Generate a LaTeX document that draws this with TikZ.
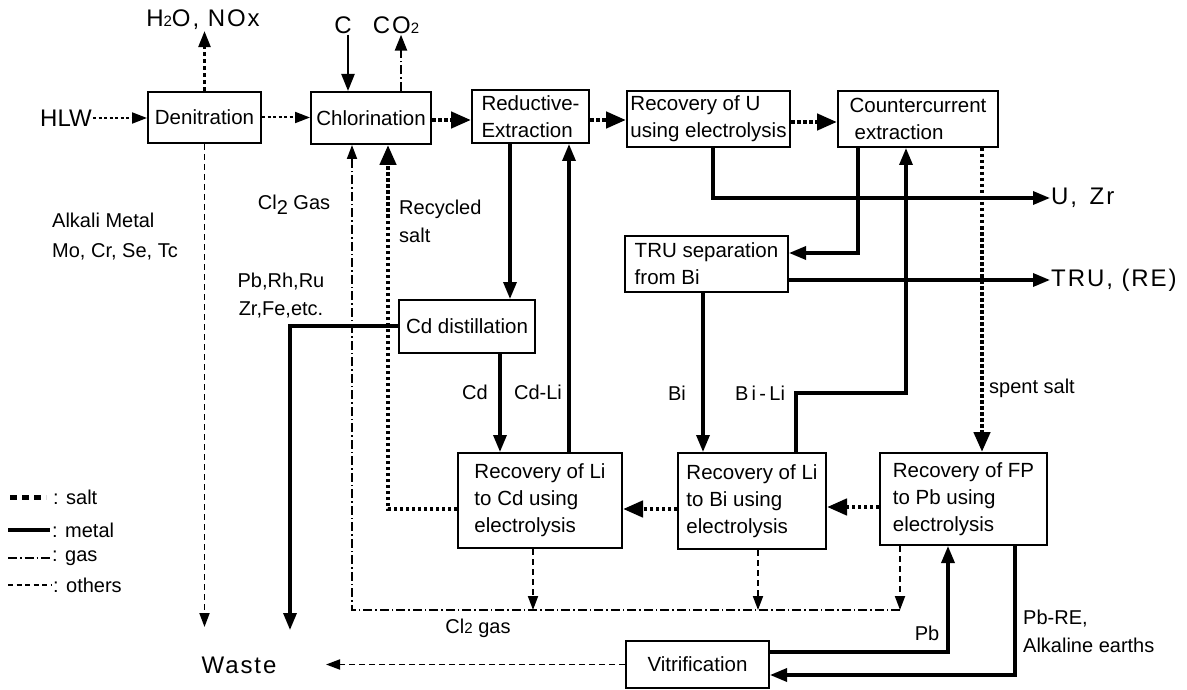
\documentclass[tikz,border=0pt]{standalone}
\usepackage{fontspec}
\setmainfont{Liberation Sans}
\usetikzlibrary{arrows.meta}
\newcommand\smalldigit[1]{{\fontsize{15}{15}\selectfont #1}}
\tikzset{
  box/.style={draw, line width=2pt, inner sep=0pt, align=left, font=\fontsize{20.5}{27}\selectfont},
  metalline/.style={line width=3.3pt},
  metal/.style={line width=3.3pt, -{Triangle[length=17pt,width=13pt]}},
  salt/.style={line width=4.5pt, dash pattern=on 3.5pt off 2.5pt, -{Triangle[length=20pt,width=16pt]}},
  gas/.style={line width=1.9pt, dash pattern=on 9pt off 3pt on 1.5pt off 3pt},
  gasarrow/.style={gas, -{Triangle[length=14pt,width=10pt]}},
  other/.style={line width=1.9pt, dash pattern=on 6pt off 4pt, -{Triangle[length=14pt,width=10pt]}},
  feed/.style={line width=2pt, dash pattern=on 3pt off 2.5pt, -{Triangle[length=15pt,width=11pt]}},
  lbl/.style={inner sep=1pt, font=\fontsize{20}{28}\selectfont},
  big/.style={inner sep=1pt, font=\fontsize{24}{28}\selectfont\addfontfeature{LetterSpace=8}},
}
\begin{document}
\begin{tikzpicture}[x=1pt,y=-1pt]
\useasboundingbox (0,0) rectangle (1187,690);

% boxes
\node[box, minimum width=113pt, minimum height=51pt] (den) at (204.5,117.5) {Denitration};
\node[box, minimum width=120pt, minimum height=52pt] (chl) at (371,118) {Chlorination};
\node[box, minimum width=117pt, minimum height=53pt] (red) at (530.5,116.5) {Reductive-\\Extraction};
\node[box, minimum width=163pt, minimum height=56pt] (recu) at (708.5,119) {Recovery of U\\using electrolysis};
\node[box, minimum width=160pt, minimum height=56pt] (cc) at (918,119) {Countercurrent\\\hspace*{5pt}extraction};
\node[box, minimum width=163pt, minimum height=56pt] (tru) at (706.5,264) {TRU separation\\from Bi};
\node[box, minimum width=136pt, minimum height=53pt] (cdd) at (467,326.5) {Cd distillation};
\node[box, minimum width=164pt, minimum height=95pt] (licd) at (540,500.5) {Recovery of Li\\to Cd using\\electrolysis};
\node[box, minimum width=148pt, minimum height=96pt] (libi) at (752,501) {Recovery of Li\\to Bi using\\electrolysis};
\node[box, minimum width=167pt, minimum height=92pt] (fp) at (963.5,499) {Recovery of FP\\to Pb using\\electrolysis};
\node[box, minimum width=143pt, minimum height=47pt] (vit) at (697.5,664.5) {Vitrification};

% outer texts
\node[big] (h2o) at (203,20) {H\smalldigit{2}O, NOx};
\node[big] (ctxt) at (343,25) {C};
\node[big] (co2) at (396,25) {CO\smalldigit{2}};
\node[big, anchor=east, font=\fontsize{24}{28}\selectfont] (hlw) at (93,118) {HLW};
\node[big, anchor=west] (uzr) at (1050,198) {U,\, Zr};
\node[big, anchor=west] (trutxt) at (1050,280) {TRU, (RE)};
\node[big] (waste) at (239,665) {Waste};
\coordinate (wt) at (326,665);
\coordinate (wd) at (204.5,627);
\coordinate (wm) at (290,630);

% labels
\node[lbl] (clgas) at (294,205) {Cl\raisebox{-5pt}{2} Gas};
\node[lbl, anchor=west, align=left] (recy) at (398,221) {Recycled\\salt};
\node[lbl, anchor=west, align=left, font=\fontsize{20}{30}\selectfont] (alk) at (51,237) {Alkali Metal\\Mo, Cr, Se, Tc};
\node[lbl, align=center] (pbrh) at (281,296) {Pb,Rh,Ru\\Zr,Fe,etc.};
\node[lbl] (cdl) at (475,392) {Cd};
\node[lbl] (cdli) at (538,392) {Cd-Li};
\node[lbl] (bil) at (677,393) {Bi};
\node[lbl] (bili) at (760,393) {B\,i\,-\,Li};
\node[lbl, anchor=west] (spent) at (988,388) {spent salt};
\node[lbl] (cl2) at (478,628) {Cl\smalldigit{2} gas};
\node[lbl] (pbl) at (927,633) {Pb};
\node[lbl, anchor=west, align=left] (pbre) at (1022,631) {Pb-RE,\\Alkaline earths};

% feed / others
\draw[feed] (hlw.east) -- (hlw.east -| den.west);
\draw[feed] (den.east) -- (den.east -| chl.west);
\draw[feed, line width=2.5pt, dash pattern=on 4pt off 3pt, -{Triangle[length=16pt,width=12pt]}] (den.north) -- (den.north |- h2o.south);
\draw[metal, line width=2.3pt] (ctxt.south -| 348,0) -- (chl.north -| 348,0);
\draw[gasarrow, line width=2.3pt, -{Triangle[length=16pt,width=12pt]}] (chl.north -| 401,0) -- (co2.south -| 401,0);
\draw[other] (den.south) -- (wd);

% salt main line
\draw[salt] (chl.east |- 0,120) -- (red.west |- 0,120);
\draw[salt] (red.east |- 0,120) -- (recu.west |- 0,120);
\draw[salt] (recu.east |- 0,122) -- (cc.west |- 0,122);
\draw[salt] (cc.south -| 982,0) -- (fp.north -| 982,0);
\draw[salt] (fp.west |- 0,507) -- (libi.east |- 0,507);
\draw[salt] (libi.west |- 0,509) -- (licd.east |- 0,509);
\draw[salt] (licd.west |- 0,509) -| (chl.south -| 388,0);

% metal
\draw[metal] (recu.south -| 713,0) |- (uzr.west);
\draw[metal] (cc.south -| 858,0) |- (tru.east |- 0,253);
\draw[metal] (tru.east |- 0,280) -- (trutxt.west);
\draw[metal] (libi.north -| 796,0) -- (796,393) -- (906,393) -- (cc.south -| 906,0);
\draw[metal] (tru.south -| 703,0) -- (libi.north -| 703,0);
\draw[metal] (red.south -| 510,0) -- (cdd.north -| 510,0);
\draw[metal] (licd.north -| 569,0) -- (red.south -| 569,0);
\draw[metal] (cdd.south -| 500,0) -- (licd.north -| 500,0);
\draw[metal] (cdd.west |- 0,326) -| (wm);
\draw[metal] (vit.east |- 0,652) -| (fp.south -| 948,0);
\draw[metal] (fp.south -| 1015,0) |- (vit.east |- 0,675);

% gas
\coordinate (g1) at (533,610);
\coordinate (g2) at (758,610);
\coordinate (g3) at (900,610);
\draw[gasarrow] (g3) -| (chl.south -| 352,0);
\draw[other] (licd.south -| g1) -- (g1);
\draw[other] (libi.south -| g2) -- (g2);
\draw[other] (fp.south -| g3) -- (g3);

% vitrification to waste
\draw[other] (vit.west) -- (vit.west -| wt);

% legend
\draw[line width=5pt, dash pattern=on 7pt off 5pt] (10,497) -- (46,497);
\node[lbl, anchor=west] (lg1) at (52,497) {: salt};
\draw[metalline] (8,530) -- (50,530);
\node[lbl, anchor=west] (lg2) at (51,530) {: metal};
\draw[gas] (8,558) -- (50,558);
\node[lbl, anchor=west] (lg3) at (51,558) {: gas};
\draw[line width=1.9pt, dash pattern=on 5pt off 3.5pt] (8,585) -- (52,585);
\node[lbl, anchor=west] (lg4) at (52,585) {: others};
\end{tikzpicture}
\end{document}
